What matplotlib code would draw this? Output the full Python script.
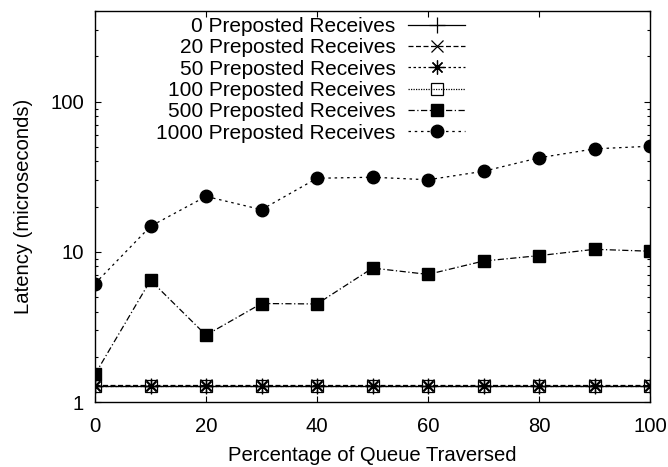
import numpy as np
import matplotlib
matplotlib.use("Agg")
import matplotlib.pyplot as plt
from matplotlib.ticker import FixedLocator, LogLocator, NullFormatter

plt.rcParams['font.family'] = ['Liberation Sans', 'DejaVu Sans']

# percentage of the posted queue that is traversed
traversed = [0, 10, 20, 30, 40, 50, 60, 70, 80, 90, 100]

# latency in microseconds for each number of preposted receives
lat_0 = [1.28, 1.28, 1.28, 1.28, 1.28, 1.28, 1.28, 1.28, 1.28, 1.28, 1.28]
lat_20 = [1.29, 1.29, 1.29, 1.29, 1.29, 1.29, 1.29, 1.29, 1.29, 1.29, 1.29]
lat_50 = [1.28, 1.28, 1.28, 1.28, 1.28, 1.28, 1.28, 1.28, 1.28, 1.28, 1.28]
lat_100 = [1.285, 1.285, 1.285, 1.285, 1.285, 1.285, 1.285, 1.285, 1.285, 1.285, 1.285]
lat_500 = [1.53, 6.47, 2.79, 4.53, 4.5, 7.8, 7.08, 8.69, 9.44, 10.4, 10.1]
lat_1000 = [6.15, 14.8, 23.4, 19.1, 30.9, 31.4, 30.2, 34.4, 42.3, 48.5, 50.5]

series_labels = ["0 Preposted Receives", "20 Preposted Receives",
                 "50 Preposted Receives", "100 Preposted Receives",
                 "500 Preposted Receives", "1000 Preposted Receives"]

fig = plt.figure(figsize=(6.68, 4.67), dpi=100)
ax = fig.add_axes([0.1422, 0.139, 0.831, 0.837])

lw = 0.9
ax.plot(traversed, lat_0, color="black", lw=lw, ls="-",
        marker="+", ms=11, mew=0.9, label=series_labels[0])
ax.plot(traversed, lat_20, color="black", lw=lw, ls=(0, (4, 2)),
        marker="x", ms=8, mew=0.9, label=series_labels[1])
ax.plot(traversed, lat_50, color="black", lw=lw, ls=(0, (2, 2)),
        marker=(8, 2, 0), ms=10, mew=0.9, label=series_labels[2])
ax.plot(traversed, lat_100, color="black", lw=lw, ls=(0, (1, 1)),
        marker="s", ms=8, mfc="none", mew=0.9, label=series_labels[3])
ax.plot(traversed, lat_500, color="black", lw=lw, ls=(0, (5, 2, 1, 2)),
        marker="s", ms=9, label=series_labels[4])
ax.plot(traversed, lat_1000, color="black", lw=lw, ls=(0, (2, 3)),
        marker="o", ms=9, label=series_labels[5])

ax.set_yscale("log")
ax.set_xlim(0, 100)
ax.set_ylim(1, 400)

ax.xaxis.set_major_locator(FixedLocator([0, 20, 40, 60, 80, 100]))
ax.yaxis.set_major_locator(FixedLocator([1, 10, 100]))
ax.set_yticklabels(["1", "10", "100"])
ax.yaxis.set_minor_locator(LogLocator(base=10, subs=np.arange(2, 10)))
ax.yaxis.set_minor_formatter(NullFormatter())

ax.tick_params(which="both", direction="in", top=True, right=True,
               labelsize=14.6, width=0.8)
ax.tick_params(axis="x", pad=11)
ax.tick_params(axis="y", pad=8)
ax.tick_params(which="major", length=4)
ax.tick_params(which="minor", length=2.2)
for s in ax.spines.values():
    s.set_linewidth(1.0)

ax.set_xlabel("Percentage of Queue Traversed", fontsize=14.6, labelpad=7)
ax.set_ylabel("Latency (microseconds)", fontsize=14.6, labelpad=12)

leg = ax.legend(loc="upper right", bbox_to_anchor=(0.667, 0.985), frameon=False,
                markerfirst=False, fontsize=15, handlelength=2.75,
                labelspacing=0.11, handletextpad=0.6, borderpad=0.0,
                borderaxespad=0.0)

fig.savefig("out.png", dpi=100)
